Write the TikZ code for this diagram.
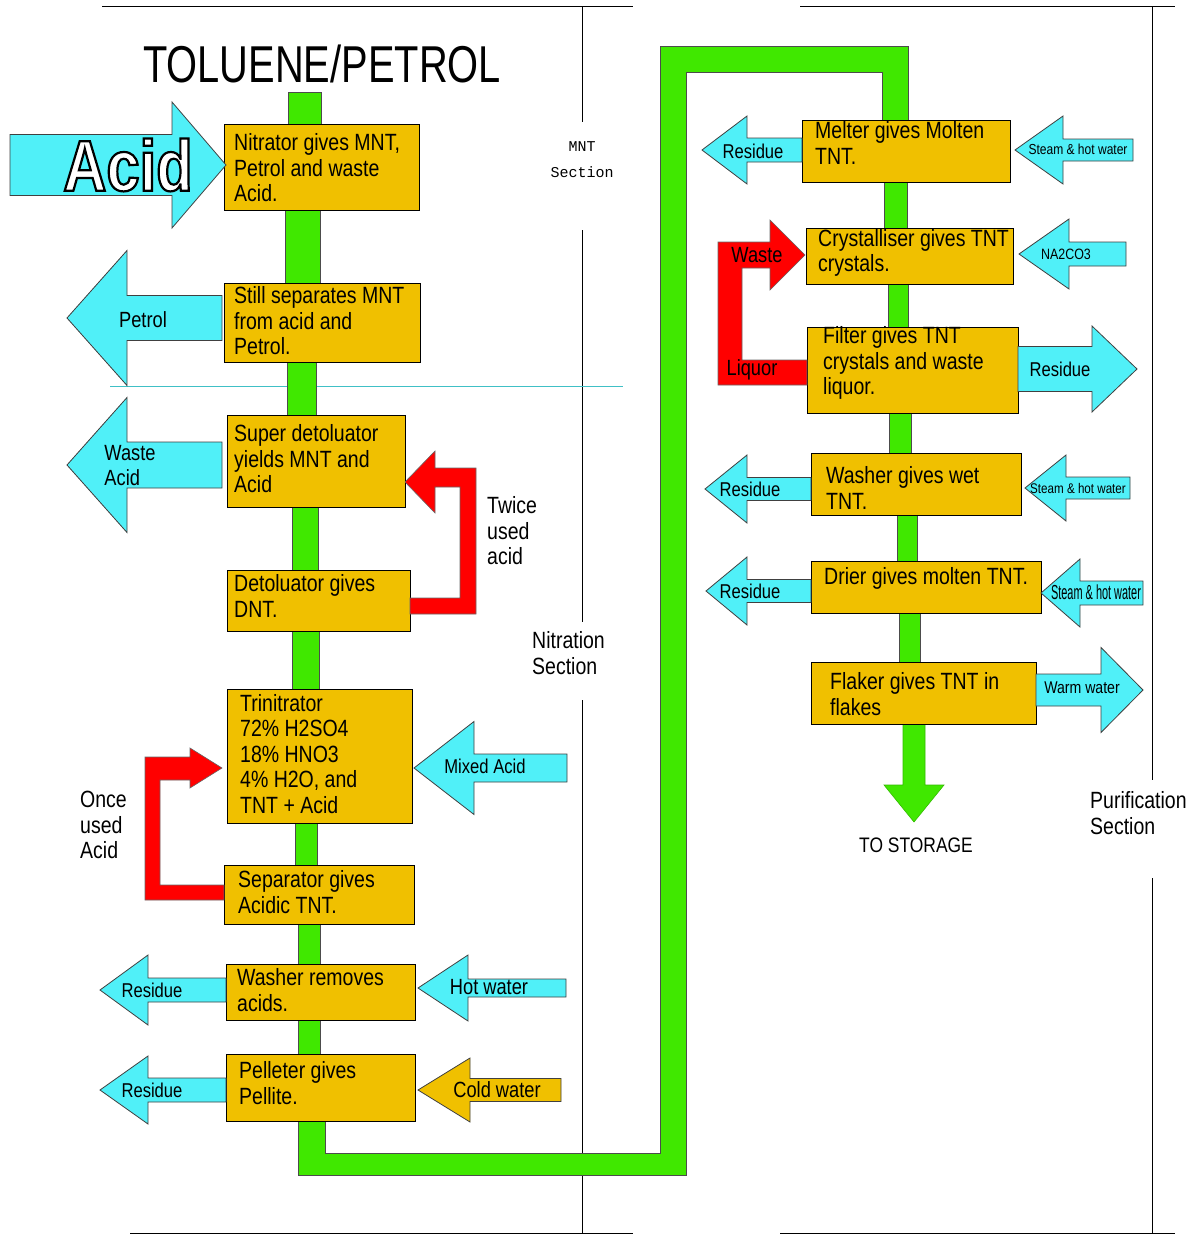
\documentclass[tikz,border=0pt]{standalone}
\usepackage{fontspec}
\setmainfont{Liberation Sans}[FakeStretch=0.83]
\setmonofont{Liberation Mono}
\definecolor{boxc}{RGB}{240,192,0}
\definecolor{cy}{RGB}{80,240,248}
\definecolor{gr}{RGB}{64,232,0}
\definecolor{rd}{RGB}{255,0,0}
\newcommand{\flowarrow}[7]{%
\filldraw[#1] (#2,#3) -- (#4,#3-#5) -- (#4,#3-#7) -- (#6,#3-#7) -- (#6,#3+#7) -- (#4,#3+#7) -- (#4,#3+#5) -- cycle;}
\newcommand{\outlinedtext}[1]{\special{pdf:literal direct 2 Tr 2.2 w 0 0 0 RG 1 1 1 rg}#1\special{pdf:literal direct 0 Tr}}
\tikzset{
 box/.style={draw=black, line width=1pt, fill=boxc, anchor=north west, inner sep=0pt},
 txt/.style={anchor=west, align=left, inner sep=0pt, font=\fontsize{23.5}{25.5}\selectfont},
 lbl/.style={align=left, inner sep=0pt, font=\fontsize{23.5}{25.5}\selectfont},
 atxt/.style={inner sep=0pt, font=\fontsize{#1}{#1}\selectfont},
 pipe/.style={fill=gr, draw=black!70, line width=0.8pt},
 cyarrow/.style={fill=cy, draw=black!75, line width=0.8pt},
 orarrow/.style={fill=boxc, draw=black!75, line width=0.8pt},
 redarrow/.style={fill=rd, draw=black!60, line width=0.6pt},
 rule/.style={draw=black, line width=0.9pt},
 acidt/.style={inner sep=0pt, font=\bfseries\fontsize{72}{72}\selectfont}
}
\begin{document}
\begin{tikzpicture}[x=1pt,y=-1pt]
\useasboundingbox (0,0) rectangle (1196,1237);
\fill[white] (0,0) rectangle (1196,1237);
% rules
\draw[rule] (102,6) -- (633,6);
\draw[rule] (800,6) -- (1175,6);
\draw[rule] (130,1233) -- (633,1233);
\draw[rule] (780,1233) -- (1175,1233);
\draw[rule] (582,6) -- (582,122);
\draw[rule] (582,230) -- (582,622);
\draw[rule] (582,700) -- (582,1233);
\draw[rule] (1152,6) -- (1152,780);
\draw[rule] (1152,878) -- (1152,1233);
\draw[cy!80!black, line width=0.8pt] (110,386) -- (623,386);
% title
\node[inner sep=0pt, font=\fontsize{48}{48}\selectfont] (title) at (322,64) {\scalebox{1}[1.08]{TOLUENE/PETROL}};
% pipes
\draw[pipe] (288,92) rectangle (321,126);
\draw[pipe] (285,208) rectangle (320,285);
\draw[pipe] (287,360) rectangle (316,417);
\draw[pipe] (292,505) rectangle (318,572);
\draw[pipe] (292,629) rectangle (319,691);
\draw[pipe] (295,821) rectangle (317,867);
\draw[pipe] (298,922) rectangle (320,966);
\draw[pipe] (298,1018) rectangle (320,1056);
\draw[pipe] (298,1119) -- (298,1175) -- (686,1175) -- (686,72) -- (882,72) -- (882,122) -- (908,122) -- (908,46) -- (660,46) -- (660,1153) -- (325,1153) -- (325,1119) -- cycle;
\draw[pipe] (884,180) rectangle (907,230);
\draw[pipe] (888,282) rectangle (908,329);
\draw[pipe] (889,411) rectangle (911,455);
\draw[pipe] (897,513) rectangle (917,563);
\draw[pipe] (899,611) rectangle (920,664);
\filldraw[fill=gr, draw=gr!80!black, line width=0.6pt] (903,722) -- (903,785) -- (884,785) -- (914,822) -- (944,785) -- (925,785) -- (925,722) -- cycle;
% left boxes
\node[box, minimum width=195, minimum height=86] (n1) at (224,124) {};
\node[box, minimum width=196, minimum height=79] (n2) at (224,283) {};
\node[box, minimum width=178, minimum height=92] (n3) at (227,415) {};
\node[box, minimum width=183, minimum height=61] (n4) at (227,570) {};
\node[box, minimum width=185, minimum height=134] (n5) at (227,689) {};
\node[box, minimum width=190, minimum height=59] (n6) at (224,865) {};
\node[box, minimum width=189, minimum height=56] (n7) at (226,964) {};
\node[box, minimum width=189, minimum height=67] (n8) at (226,1054) {};
% right boxes
\node[box, minimum width=208, minimum height=62] (r1) at (802,120) {};
\node[box, minimum width=207, minimum height=56] (r2) at (806,228) {};
\node[box, minimum width=211, minimum height=86] (r3) at (807,327) {};
\node[box, minimum width=210, minimum height=62] (r4) at (811,453) {};
\node[box, minimum width=230, minimum height=52] (r5) at (811,561) {};
\node[box, minimum width=225, minimum height=62] (r6) at (811,662) {};
% box texts
\node[txt] (t1) at (234,168) {Nitrator gives MNT,\\Petrol and waste\\Acid.};
\node[txt] (t2) at (234,321) {Still separates MNT\\from acid and\\Petrol.};
\node[txt] (t3) at (234,459) {Super detoluator\\yields MNT and\\Acid};
\node[txt] (t4) at (234,596) {Detoluator gives\\DNT.};
\node[txt] (t5) at (240,754) {Trinitrator\\72\% H2SO4\\18\% HNO3\\4\% H2O, and\\TNT + Acid};
\node[txt] (t6) at (238,892) {Separator gives\\Acidic TNT.};
\node[txt] (t7) at (237,990) {Washer removes\\acids.};
\node[txt] (t8) at (239,1083) {Pelleter gives\\Pellite.};
\node[txt] (u1) at (815,143) {Melter gives Molten\\TNT.};
\node[txt] (u2) at (818,253) {Crystalliser gives TNT\\crystals.};
\node[txt] (u3) at (823,363) {Filter gives TNT\\crystals and waste\\liquor.};
\node[txt] (u4) at (826,488) {Washer gives wet\\TNT.};
\node[txt] (u5) at (824,578) {Drier gives molten TNT.};
\node[txt] (u6) at (830,694) {Flaker gives TNT in\\flakes};
% cyan arrows left column
\flowarrow{cyarrow}{226}{165}{172}{63}{10}{30.5}
\node[acidt] (acid) at (128,165) {\outlinedtext{Acid}};
\flowarrow{cyarrow}{67}{318}{127}{67.5}{222}{22.5}
\node[atxt=22] (petrol) at (143,320) {Petrol};
\flowarrow{cyarrow}{67}{465}{127}{67.5}{222}{23}
\node[atxt=22, align=left, font=\fontsize{22}{25}\selectfont] (wacid) at (130,466) {Waste\\Acid};
\flowarrow{cyarrow}{414}{768}{474}{46.5}{567}{14}
\node[atxt=20] (mixed) at (485,766) {Mixed Acid};
\flowarrow{cyarrow}{100}{990}{148}{35}{226}{12}
\node[atxt=20] (res1) at (152,990) {Residue};
\flowarrow{cyarrow}{100}{1090}{148}{34}{226}{12}
\node[atxt=20] (res2) at (152,1090) {Residue};
\flowarrow{cyarrow}{418}{988}{468}{33}{566}{9}
\node[atxt=22] (hot) at (489,987) {Hot water};
\flowarrow{orarrow}{418}{1090}{470}{32}{561}{11.5}
\node[atxt=22] (cold) at (497,1090) {Cold water};
% cyan arrows right column
\flowarrow{cyarrow}{702}{150}{747}{34}{802}{12}
\node[atxt=20] (res3) at (753,151) {Residue};
\flowarrow{cyarrow}{1015}{150}{1063}{34}{1133}{11}
\node[atxt=14.5] (steam1) at (1078,149) {Steam \& hot water};
\flowarrow{cyarrow}{1019}{254}{1069}{35}{1126}{12}
\node[atxt=15] (na) at (1066,254) {NA2CO3};
\flowarrow{cyarrow}{1137}{369}{1092}{43}{1018}{22.5}
\node[atxt=20] (res4) at (1060,369) {Residue};
\flowarrow{cyarrow}{705}{489}{747}{34}{811}{11.5}
\node[atxt=20] (res5) at (750,489) {Residue};
\flowarrow{cyarrow}{1025}{488}{1066}{33}{1130}{11}
\node[atxt=14] (steam2) at (1078,488) {Steam \& hot water};
\flowarrow{cyarrow}{706}{591}{747}{34}{811}{11.5}
\node[atxt=20] (res6) at (750,591) {Residue};
\flowarrow{cyarrow}{1041}{593}{1080}{34}{1143}{12}
\node[atxt=14] (steam3) at (1096,592) {\scalebox{0.94}[1.45]{Steam \& hot water}};
\flowarrow{cyarrow}{1143}{690}{1101}{42.5}{1036}{16}
\node[atxt=17] (warm) at (1082,688) {Warm water};
% red recycle arrows
\filldraw[redarrow] (405,482) -- (435,451) -- (435,468) -- (476,468) -- (476,614) -- (410,614) -- (410,598) -- (460,598) -- (460,487) -- (435,487) -- (435,513) -- cycle;
\filldraw[redarrow] (222,768) -- (190,748) -- (190,757) -- (145,757) -- (145,900) -- (224,900) -- (224,885) -- (160,885) -- (160,780) -- (190,780) -- (190,788) -- cycle;
\filldraw[redarrow] (805,255) -- (770,220) -- (770,242) -- (718,242) -- (718,385) -- (807,385) -- (807,360) -- (742,360) -- (742,268) -- (770,268) -- (770,290) -- cycle;
\node[atxt=22] (waste) at (757,255) {Waste};
\node[atxt=22] (liquor) at (752,370) {Liquor};
% side labels
\node[lbl, anchor=west] (twice) at (487,531) {Twice\\used\\acid};
\node[lbl, anchor=west] (once) at (80,825) {Once\\used\\Acid};
\node[lbl, anchor=west] (nitr) at (532,653) {Nitration\\Section};
\node[lbl, anchor=west] (puri) at (1090,813) {Purification\\Section};
\node[inner sep=0pt, font=\fontsize{21}{21}\selectfont] (storage) at (916,845) {TO STORAGE};
\node[inner sep=0pt, align=center, font=\ttfamily\fontsize{15}{26}\selectfont] (mnt) at (582,160) {MNT\\Section};
\end{tikzpicture}
\end{document}
